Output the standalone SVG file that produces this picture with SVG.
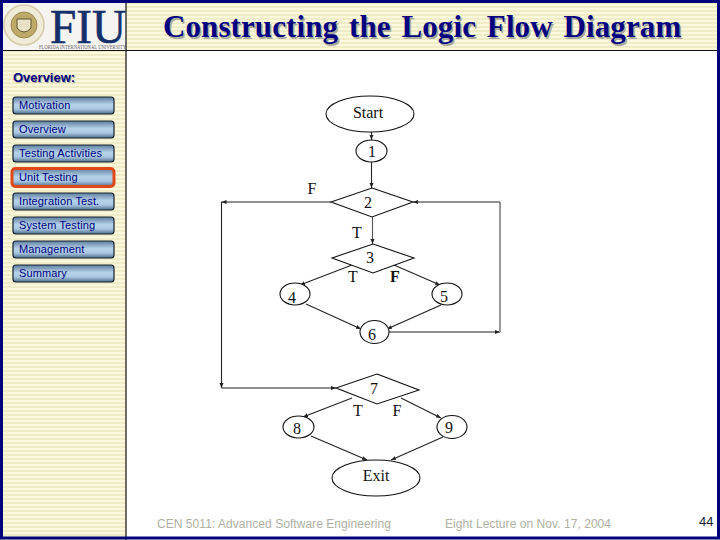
<svg xmlns="http://www.w3.org/2000/svg" width="720" height="540" viewBox="0 0 720 540">
<style>
.btn{fill:url(#bg);stroke:#14202e;stroke-width:1.2}
.bt{font:11px "Liberation Sans",Arial,sans-serif;fill:#000080;letter-spacing:.13px}
.n{fill:#fff;stroke:#111;stroke-width:1.1}
.l{font:16px "Liberation Serif","Times New Roman",serif;fill:#111;text-anchor:middle}
.c{fill:none;stroke:#222;stroke-width:1.1;marker-end:url(#a)}
.c0{fill:none;stroke:#222;stroke-width:1.1}
.f{font:12px "Liberation Sans",Arial,sans-serif;fill:#b0b0a4;letter-spacing:.05px}
.t{font:bold 31px "Liberation Serif","Times New Roman",serif;fill:#000080;text-shadow:1.5px 1.5px 0 #a8a89c;word-spacing:3px;letter-spacing:.1px}
.o{font:bold 13px "Liberation Sans",Arial,sans-serif;fill:#000080;text-shadow:1px 1px 0 #a8a89c}
</style>
<defs>
<pattern id="st" width="4" height="4" patternUnits="userSpaceOnUse"><rect width="4" height="4" fill="#fbf8dc"/><rect y="2" width="4" height="2" fill="#f0ecc8"/></pattern>
<linearGradient id="bg" x1="0" y1="0" x2="0" y2="1"><stop offset="0" stop-color="#5f7f9f"/><stop offset=".45" stop-color="#b5d2ea"/><stop offset=".7" stop-color="#a9c8e2"/><stop offset="1" stop-color="#4f6c8a"/></linearGradient>
<marker id="a" markerWidth="6" markerHeight="6" refX="5" refY="3" orient="auto" markerUnits="userSpaceOnUse"><path d="M0 1L5 3L0 5z" fill="#222"/></marker>
</defs>
<rect width="720" height="540" fill="#fff"/>
<rect x="0" y="0" width="720" height="50" fill="url(#st)"/>
<rect x="0" y="50" width="126" height="490" fill="url(#st)"/>
<g id="logo">
<rect x="3" y="3" width="123" height="47" fill="#f6f4f0"/>
<circle cx="24" cy="25" r="20" fill="#f0ead8" stroke="#d6cba8" stroke-width="1.500"/>
<circle cx="24" cy="25" r="13" fill="#bda968" stroke="#9a8a55"/>
<path d="M17 19h14v9q-7 8-14 0z" fill="#e9e2c4" stroke="#5d5230" stroke-width="1"/>
<text x="50" y="43" font-family="Liberation Serif,serif" font-size="48" fill="#14306b" stroke="#14306b" stroke-width=".6" textLength="76" lengthAdjust="spacingAndGlyphs">FIU</text>
<text x="39" y="48.500" font-family="Liberation Serif,serif" font-size="5.500" fill="#666" textLength="87" lengthAdjust="spacingAndGlyphs">FLORIDA INTERNATIONAL UNIVERSITY</text>
</g>
<path d="M126 3V540M0 50.500H720" fill="none" stroke="#101010" stroke-width="1.200"/>
<rect x="1.500" y="1.500" width="717" height="536.500" fill="none" stroke="#00007a" stroke-width="3"/>
<g id="title">
<text x="163" y="37" class="t">Constructing the Logic Flow Diagram</text>
</g>
<g id="sidebar">
<text x="13" y="82" class="o">Overview:</text>
<g id="b1"><rect class="btn" x="13" y="97" width="101" height="17" rx="3"/><text class="bt" x="19" y="109">Motivation</text></g>
<g id="b2"><rect class="btn" x="13" y="121" width="101" height="17" rx="3"/><text class="bt" x="19" y="133">Overview</text></g>
<g id="b3"><rect class="btn" x="13" y="145" width="101" height="17" rx="3"/><text class="bt" x="19" y="157">Testing Activities</text></g>
<g id="b4"><rect class="btn" x="12" y="168.500" width="102" height="18" rx="3.500" style="stroke:#e0481a;stroke-width:3"/><text class="bt" x="19" y="181">Unit Testing</text></g>
<g id="b5"><rect class="btn" x="13" y="193" width="101" height="17" rx="3"/><text class="bt" x="19" y="205">Integration Test.</text></g>
<g id="b6"><rect class="btn" x="13" y="217" width="101" height="17" rx="3"/><text class="bt" x="19" y="229">System Testing</text></g>
<g id="b7"><rect class="btn" x="13" y="241" width="101" height="17" rx="3"/><text class="bt" x="19" y="253">Management</text></g>
<g id="b8"><rect class="btn" x="13" y="265" width="101" height="17" rx="3"/><text class="bt" x="19" y="277">Summary</text></g>
</g>
<g id="connectors">
<path class="c" d="M371.500 132V140"/>
<path class="c" d="M371.500 162V188"/>
<path class="c" d="M331 202H221.500"/>
<path class="c" d="M221.500 202V388"/>
<path class="c" d="M221.500 388H336"/>
<path class="c" d="M372.500 217V244" style="stroke:#555"/>
<path class="c" d="M352 265L300 285"/>
<path class="c" d="M394 265L440 285"/>
<path class="c" d="M306 304L361 329"/>
<path class="c" d="M441 305L387 329"/>
<path class="c" d="M389 332H500"/>
<path class="c0" d="M500 332V202" style="stroke:#999;stroke-width:2"/>
<path class="c" d="M500 202H413"/>
<path class="c" d="M352 398L303 417"/>
<path class="c" d="M401 398L441 418"/>
<path class="c" d="M311 436L367 460"/>
<path class="c" d="M443 437L391 460"/>
</g>
<g id="start"><ellipse class="n" cx="370" cy="114" rx="44" ry="18"/><text class="l" x="368" y="118">Start</text></g>
<g id="n1"><ellipse class="n" cx="371.500" cy="151" rx="15.500" ry="11"/><text class="l" x="372" y="157">1</text></g>
<g id="n2"><path class="n" d="M372 188L413 202L372 217L331 202z"/><text class="l" x="368" y="208">2</text></g>
<g id="n3"><path class="n" d="M373 244L414 258L373 273L332 258z"/><text class="l" x="370" y="263">3</text></g>
<g id="n4"><ellipse class="n" cx="295" cy="294" rx="15" ry="11"/><text class="l" x="292" y="303">4</text></g>
<g id="n5"><ellipse class="n" cx="447" cy="294" rx="15" ry="11"/><text class="l" x="444" y="302">5</text></g>
<g id="n6"><ellipse class="n" cx="374.500" cy="332" rx="14.500" ry="11.500"/><text class="l" x="372" y="340">6</text></g>
<g id="n7"><path class="n" d="M377 374L419 390L377 404L336 388z"/><text class="l" x="374" y="394">7</text></g>
<g id="n8"><ellipse class="n" cx="298.500" cy="427" rx="15.500" ry="11"/><text class="l" x="297" y="434">8</text></g>
<g id="n9"><ellipse class="n" cx="452" cy="427" rx="15" ry="11.500"/><text class="l" x="449" y="433">9</text></g>
<g id="exit"><ellipse class="n" cx="376" cy="478" rx="44" ry="18"/><text class="l" x="376" y="481">Exit</text></g>
<g id="edge-labels">
<text class="l" x="312" y="194">F</text>
<text class="l" x="357" y="238">T</text>
<text class="l" x="353" y="282">T</text>
<text class="l" x="395" y="282" style="font-weight:bold">F</text>
<text class="l" x="358" y="416">T</text>
<text class="l" x="397" y="416">F</text>
</g>
<g id="footer">
<text class="f" x="157" y="528">CEN 5011: Advanced Software Engineering</text>
<text class="f" x="445" y="528">Eight Lecture on Nov. 17, 2004</text>
<text x="699" y="526" font-family="Liberation Sans,Arial,sans-serif" font-size="13" fill="#1a1a40">44</text>
</g>
</svg>
